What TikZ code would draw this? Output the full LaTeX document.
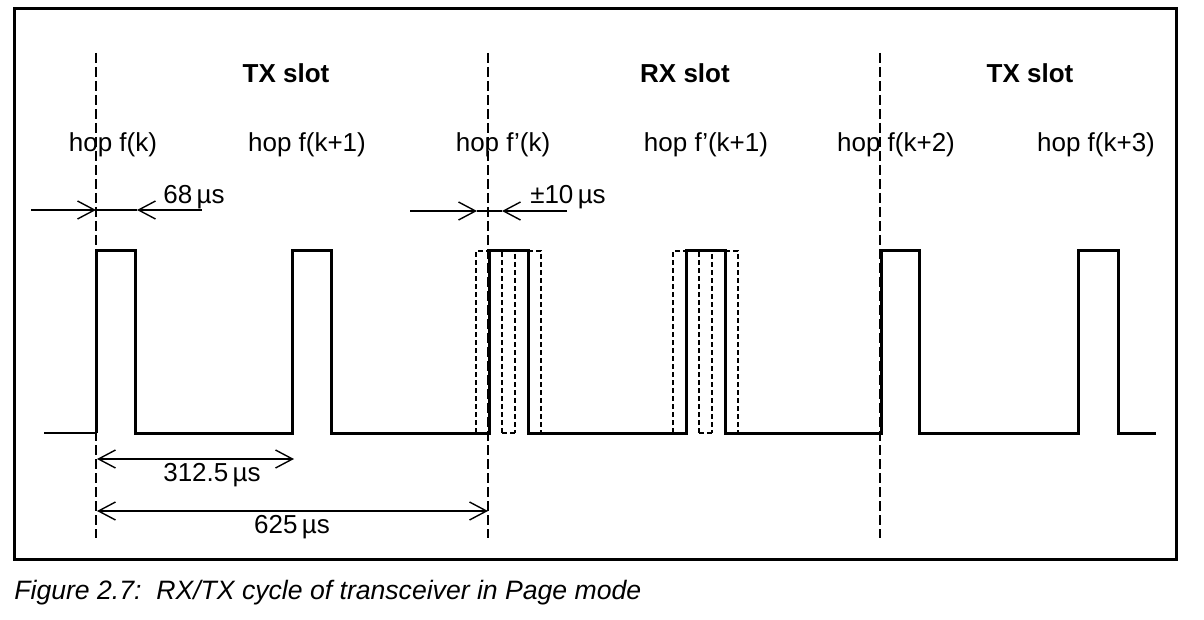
\documentclass[tikz,border=0pt]{standalone}
\usepackage{fontspec}
\setmainfont{Liberation Sans}
\usetikzlibrary{arrows.meta}
\begin{document}
\begin{tikzpicture}[x=0.5pt,y=-0.5pt,
  lbl/.style={inner sep=0pt,font=\fontsize{13}{15}\selectfont},
  slotlbl/.style={inner sep=0pt,font=\fontsize{13}{15}\selectfont\bfseries},
  sig/.style={line width=1.5pt,line join=miter},
  ghost/.style={line width=0.75pt,dash pattern=on 2.5pt off 1.5pt},
  marker/.style={line width=0.7pt,dash pattern=on 5pt off 2pt},
  dim/.style={line width=0.7pt},
  vhead/.style={-{Straight Barb[length=8.5pt,width=9pt,line width=0.7pt]}},
  bihead/.style={{Straight Barb[length=8.5pt,width=9pt,line width=0.7pt]}-{Straight Barb[length=8.5pt,width=9pt,line width=0.7pt]}}]
\useasboundingbox (0,0) rectangle (1204,620);
% frame
\draw[line width=1.5pt] (14,9) rectangle (1176,559);
% slot markers
\foreach \x/\n in {96/a,488/b,880/c}{
  \coordinate (m\n t) at (\x,53);
  \coordinate (m\n b) at (\x,538);
  \draw[marker] (m\n t) -- (m\n b);
}
% slot labels
\node[slotlbl] (tx1) at (286,73) {TX slot};
\node[slotlbl] (rx) at (685,73) {RX slot};
\node[slotlbl] (tx2) at (1030,73) {TX slot};
% hop labels
\node[lbl] (h1) at (113,145) {hop f(k)};
\node[lbl] (h2) at (307,145) {hop f(k+1)};
\node[lbl] (h3) at (503,145) {hop f'(k)};
\node[lbl] (h4) at (706,145) {hop f'(k+1)};
\node[lbl] (h5) at (896,145) {hop f(k+2)};
\node[lbl] (h6) at (1096,145) {hop f(k+3)};
% signal
\draw[dim] (44,433) -- (96,433);
\draw[sig] (96,433) -- (96,251) -- (135,251) -- (135,433) -- (292,433) -- (292,251) -- (331,251) -- (331,433)
  -- (489,433) -- (489,251) -- (528,251) -- (528,433) -- (686,433) -- (686,251) -- (725,251) -- (725,433)
  -- (881,433) -- (881,251) -- (919,251) -- (919,433) -- (1078,433) -- (1078,251) -- (1118,251) -- (1118,433) -- (1156,433);
% ghost pulses (+-10 us)
\foreach \c in {489,686}{
  \draw[ghost] (\c-13,433) -- (\c-13,251) -- (\c+26,251) -- (\c+26,433);
  \draw[ghost] (\c+13,433) -- (\c+13,251) -- (\c+52,251) -- (\c+52,433);
  \draw[ghost] (\c+13,433) -- (\c+26,433);
}
% 68 us
\coordinate (a1) at (31,210);
\coordinate (a2) at (96,210);
\coordinate (a3) at (137,210);
\coordinate (a4) at (202,210);
\draw[dim,vhead] (a1) -- (a2);
\draw[dim] (a2) -- (a3);
\draw[dim,vhead] (a4) -- (a3);
\node[lbl] (t68) at (194,197) {68\,µs};
% +-10 us
\coordinate (b1) at (410,211);
\coordinate (b2) at (477,211);
\coordinate (b3) at (502,211);
\coordinate (b4) at (567,211);
\draw[dim,vhead] (b1) -- (b2);
\draw[dim] (b2) -- (b3);
\draw[dim,vhead] (b4) -- (b3);
\node[lbl] (t10) at (568,197) {±10\,µs};
% 312.5 us
\coordinate (c1) at (97,459);
\coordinate (c2) at (294,459);
\draw[dim,bihead] (c1) -- (c2);
\node[lbl] (t312) at (212,475) {312.5\,µs};
% 625 us
\coordinate (d1) at (97,511);
\coordinate (d2) at (488,511);
\draw[dim,bihead] (d1) -- (d2);
\node[lbl] (t625) at (292,527) {625\,µs};
% caption
\node[lbl,anchor=west,font=\fontsize{13.3}{16}\selectfont\itshape] (cap) at (14,593) {Figure 2.7:\ \ RX/TX cycle of transceiver in Page mode};
\end{tikzpicture}
\end{document}
